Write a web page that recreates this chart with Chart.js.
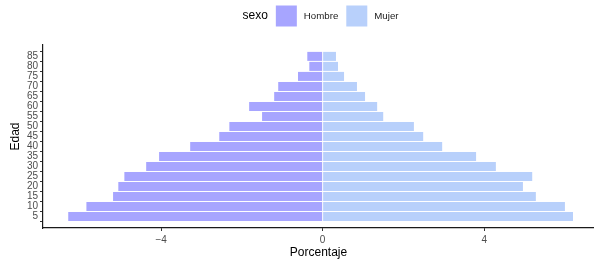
<!DOCTYPE html>
<html>
<head>
<meta charset="utf-8">
<script src="https://cdn.jsdelivr.net/npm/chart.js@4"></script>
<style>
  html, body { margin: 0; padding: 0; background: #fff; }
  #wrap { width: 594px; height: 261px; }
</style>
</head>
<body>
<div id="wrap"><canvas id="pyramid"></canvas></div>
<script>
// Age groups (bottom to top) and share of population per sex
const edades = ['5', '10', '15', '20', '25', '30', '35', '40', '45', '50', '55', '60', '65', '70', '75', '80', '85'];
const hombre = [-6.30, -5.85, -5.19, -5.06, -4.91, -4.37, -4.05, -3.28, -2.56, -2.31, -1.50, -1.82, -1.20, -1.10, -0.61, -0.33, -0.38];
const mujer = [6.20, 6.00, 5.28, 4.96, 5.19, 4.29, 3.80, 2.96, 2.49, 2.26, 1.50, 1.35, 1.05, 0.85, 0.53, 0.38, 0.33];
const xTicks = [-4, 0, 4];

const FONT = '"Liberation Sans", Arial, sans-serif';
const colHombre = '#a7a5ff';
const colMujer = '#b8d0fb';

// ggplot-style legend on top: "sexo [box] Hombre [box] Mujer"
const topLegend = {
    id: 'topLegend',
    afterDraw(chart) {
        const ctx = chart.ctx;
        const box = 21, gapBox = 7, gapItem = 8;
        ctx.save();
        ctx.textBaseline = 'middle';
        ctx.font = '12px ' + FONT;
        const titleW = ctx.measureText('sexo').width;
        ctx.font = '9.7px ' + FONT;
        const items = chart.data.datasets.map(ds => ({
            label: ds.label, color: ds.backgroundColor, w: ctx.measureText(ds.label).width
        }));
        let total = titleW;
        items.forEach(it => { total += gapItem + box + gapBox + it.w; });
        let x = 320.5 - total / 2;
        const cy = 16;
        ctx.fillStyle = '#000';
        ctx.font = '12px ' + FONT;
        ctx.fillText('sexo', x, cy);
        x += titleW;
        ctx.font = '9.7px ' + FONT;
        items.forEach(it => {
            x += gapItem;
            ctx.fillStyle = it.color;
            ctx.fillRect(x, cy - box / 2, box, box);
            x += box + gapBox;
            ctx.fillStyle = '#1a1a1a';
            ctx.fillText(it.label, x, cy);
            x += it.w;
        });
        ctx.restore();
    }
};

new Chart(document.getElementById('pyramid'), {
    type: 'bar',
    data: {
        datasets: [
            { label: 'Hombre', data: hombre.map((v, i) => ({ x: v, y: i })), backgroundColor: colHombre, borderWidth: 0 },
            { label: 'Mujer', data: mujer.map((v, i) => ({ x: v, y: i })), backgroundColor: colMujer, borderWidth: 0 }
        ]
    },
    options: {
        indexAxis: 'y',
        responsive: true,
        maintainAspectRatio: false,
        animation: false,
        barPercentage: 0.9,
        categoryPercentage: 1.0,
        layout: { padding: { top: 45, right: 0, left: 0, bottom: 0 } },
        scales: {
            x: {
                type: 'linear',
                stacked: true,
                min: -6.925,
                max: 6.72,
                afterBuildTicks: axis => { axis.ticks = xTicks.map(v => ({ value: v })); },
                afterFit: axis => { axis.height = 33; },
                ticks: {
                    color: '#4d4d4d',
                    font: { family: FONT, size: 10 },
                    padding: 3,
                    callback: v => (v < 0 ? '\u2212' + Math.abs(v) : String(v))
                },
                grid: { display: true, drawOnChartArea: false, drawTicks: true, tickLength: 3, tickColor: '#333' },
                border: { display: true, color: '#1a1a1a', width: 1.2 },
                title: {
                    display: true, text: 'Porcentaje', color: '#000',
                    font: { family: FONT, size: 12 }, padding: { top: 0, bottom: 1 }
                }
            },
            y: {
                type: 'linear',
                stacked: true,
                min: -0.6,
                max: 16.6,
                afterBuildTicks: axis => { axis.ticks = edades.map((e, i) => ({ value: i })); },
                afterFit: axis => { axis.width = 43; },
                ticks: {
                    color: '#4d4d4d',
                    font: { family: FONT, size: 10 },
                    padding: 2,
                    autoSkip: false,
                    callback: v => edades[v]
                },
                grid: { display: true, drawOnChartArea: false, drawTicks: true, tickLength: 3, tickColor: '#333' },
                border: { display: true, color: '#1a1a1a', width: 1.2 },
                title: {
                    display: true, text: 'Edad', color: '#000',
                    font: { family: FONT, size: 12 }, padding: { top: 8, bottom: 0 }
                }
            }
        },
        plugins: {
            legend: { display: false },
            tooltip: { enabled: false }
        }
    },
    plugins: [topLegend]
});
</script>
</body>
</html>
